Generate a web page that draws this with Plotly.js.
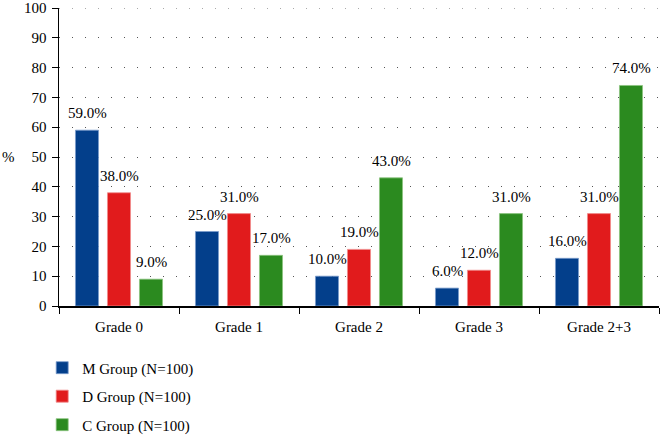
<!DOCTYPE html>
<html>
<head>
<meta charset="utf-8">
<script src="https://cdn.plot.ly/plotly-3.0.1.min.js"></script>
<style>html,body{margin:0;padding:0;background:#fff;}#chart{width:661px;height:436px;}</style>
</head>
<body>
<div id="chart"></div>
<script>
var categories = ["Grade 0", "Grade 1", "Grade 2", "Grade 3", "Grade 2+3"];
var mGroup = [59, 25, 10, 6, 16];
var dGroup = [38, 31, 19, 12, 31];
var cGroup = [9, 17, 43, 31, 74];
var seriesNames = ["M Group (N=100)", "D Group (N=100)", "C Group (N=100)"];
var colors = ["#033f8b", "#e11b1c", "#2b8a1f"];
var edgeColors = ["#7a9ccc", "#f08c8c", "#8cc47f"];
var yMax = 100;
var yStep = 10;

var font = "Times New Roman, Liberation Serif, serif";
var allSeries = [mGroup, dGroup, cGroup];
var offsets = [-32, 0, 32];

var traces = allSeries.map(function (vals, i) {
  return {
    type: "bar",
    x: categories,
    y: vals,
    name: seriesNames[i],
    legendgroup: "g" + i,
    marker: { color: colors[i], line: { color: edgeColors[i], width: 0.8 } },
    hoverinfo: "skip"
  };
});

var annotations = [];
allSeries.forEach(function (vals, i) {
  vals.forEach(function (v, j) {
    annotations.push({
      x: categories[j], y: v, xref: "x", yref: "y",
      text: v.toFixed(1) + "%",
      showarrow: false,
      xanchor: "center", yanchor: "bottom",
      xshift: offsets[i], yshift: 7,
      font: { family: font, size: 15, color: "#000" }
    });
  });
});
annotations.push({
  text: "%",
  xref: "paper", yref: "paper",
  x: -0.098, y: 0.5,
  xanchor: "left", yanchor: "middle",
  showarrow: false,
  font: { family: font, size: 15, color: "#000" }
});

var layout = {
  width: 661,
  height: 436,
  margin: { l: 59, r: 2, t: 8, b: 130, autoexpand: false },
  paper_bgcolor: "#fff",
  plot_bgcolor: "#fff",
  font: { family: font, size: 15, color: "#000" },
  barmode: "group",
  bargap: 0.2,
  bargroupgap: 0.28,
  showlegend: true,
  legend: {
    orientation: "v",
    xref: "paper", yref: "container",
    x: -0.028, xanchor: "left",
    y: 0.194, yanchor: "top",
    traceorder: "grouped",
    tracegroupgap: 6,
    font: { family: font, size: 15, color: "#000" },
    itemwidth: 30
  },
  xaxis: {
    type: "category",
    showline: true,
    linecolor: "#000",
    linewidth: 1.5,
    ticks: "outside",
    tickson: "boundaries",
    ticklen: 6,
    tickcolor: "#000",
    showgrid: false,
    automargin: false,
    ticklabelstandoff: 6,
    tickfont: { family: font, size: 15, color: "#000" }
  },
  yaxis: {
    range: [0, yMax],
    tickmode: "linear",
    tick0: 0,
    dtick: yStep,
    showline: true,
    linecolor: "#000",
    linewidth: 1.5,
    ticks: "outside",
    ticklen: 6,
    tickcolor: "#000",
    showgrid: true,
    gridcolor: "#555",
    gridwidth: 1,
    griddash: "1px,12px",
    zeroline: false,
    automargin: false,
    ticklabeloverflow: "allow",
    ticklabelstandoff: 2,
    tickfont: { family: font, size: 15, color: "#000" }
  },
  shapes: [{
    type: "line", xref: "paper", yref: "y",
    x0: 0, x1: 1, y0: yMax, y1: yMax,
    line: { color: "#555", width: 1, dash: "1px,12px" },
    layer: "below"
  }],
  annotations: annotations
};

Plotly.newPlot("chart", traces, layout, { displayModeBar: false, staticPlot: true });
</script>
</body>
</html>
